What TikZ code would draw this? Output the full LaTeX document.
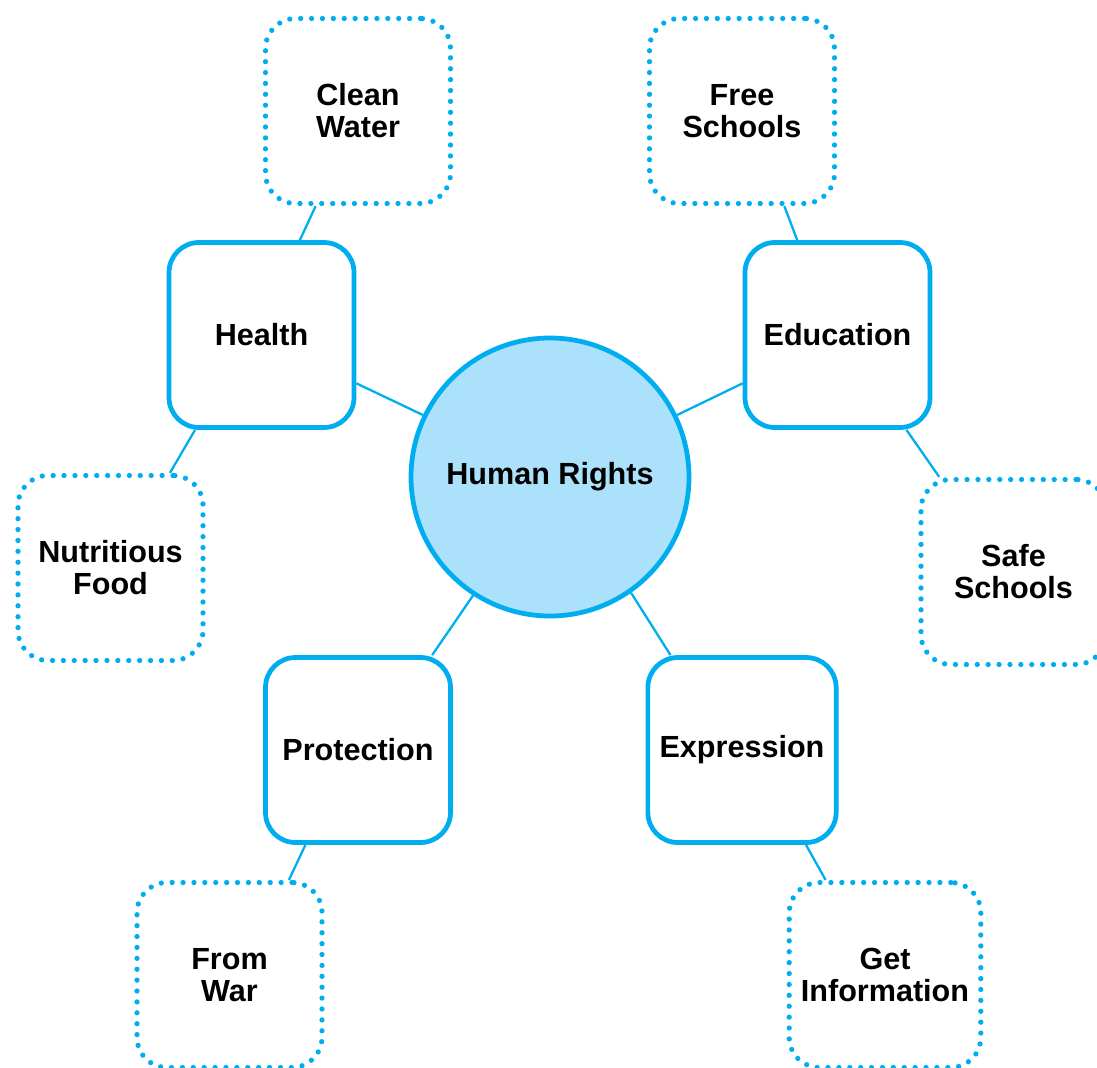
\documentclass[tikz,border=0pt]{standalone}
\usepackage{fontspec}
\setmainfont{Liberation Sans}
\usetikzlibrary{shapes.geometric}

\definecolor{hrblue}{RGB}{0,174,239}
\definecolor{hrfill}{RGB}{171,225,250}

\tikzset{
  topic/.style={draw=hrblue, line width=1.35pt, rounded corners=0.3cm,
    minimum width=1.85cm, minimum height=1.85cm, align=center,
    font=\bfseries\fontsize{8.7}{9.1}\selectfont},
  detail/.style={topic, line width=1.5pt, dash pattern=on 0pt off 3.1pt, line cap=round},
  link/.style={draw=hrblue, line width=0.65pt}
}

\begin{document}
\begin{tikzpicture}
  \useasboundingbox (0,0) rectangle (10.97,10.67);
  \node (hr) [circle, draw=hrblue, fill=hrfill, line width=1.35pt, minimum size=2.78cm,
    font=\bfseries\fontsize{8.7}{9.1}\selectfont] at (5.50, 5.90) {Human Rights};

  % main topics
  \node (health) [topic] at (2.615, 7.32) {Health};
  \node (edu)    [topic] at (8.375, 7.32) {Education};
  \node (prot)   [topic] at (3.58, 3.17) {Protection};
  \node (expr)   [topic] at (7.42, 3.17) {Expression};

  % details
  \node (water)  [detail] at (3.58, 9.56) {Clean\\Water};
  \node (free)   [detail] at (7.42, 9.56) {Free\\Schools};
  \node (food)   [detail] at (1.105, 4.99) {Nutritious\\Food};
  \node (safe)   [detail] at (10.135, 4.95) {Safe\\Schools};
  \node (war)    [detail] at (2.295, 0.92) {From\\War};
  \node (info)   [detail] at (8.85, 0.92) {Get\\Information};

  \draw [link] (health.-27) -- (hr.154);
  \draw [link] (edu.207) -- (hr.26);
  \draw [link] (prot.52) -- (hr.237);
  \draw [link] (expr.127) -- (hr.305);

  \draw [link] (water.246) -- (health.68);
  \draw [link] (free.294) -- (edu.113);
  \draw [link] (food.58) -- (health.235);
  \draw [link] (safe.128) -- (edu.306);
  \draw [link] (war.58) -- (prot.241);
  \draw [link] (info.122) -- (expr.304);
\end{tikzpicture}
\end{document}
